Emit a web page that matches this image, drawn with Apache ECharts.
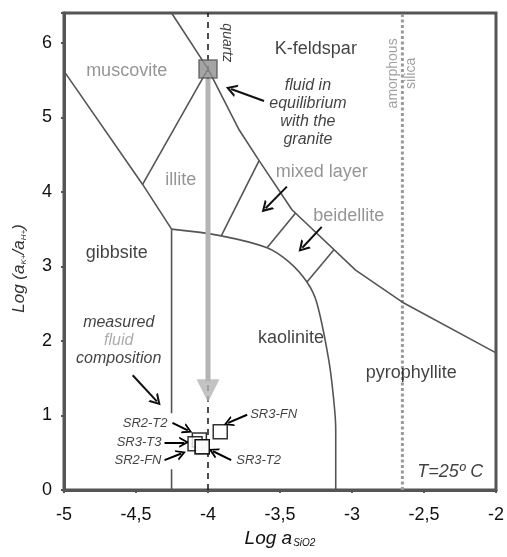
<!DOCTYPE html>
<html><head><meta charset="utf-8">
<script src="https://cdn.jsdelivr.net/npm/echarts@6/dist/echarts.min.js"></script>
<style>html,body{margin:0;padding:0;background:#fff}#c{width:507px;height:557px}</style>
</head><body><div id="c"></div>
<script>
// ---------- data (log activities) ----------
const xTickValues = [-5, -4.5, -4, -3.5, -3, -2.5, -2];
const yTickValues = [0, 1, 2, 3, 4, 5, 6];

const muscoviteGibbsite = [[-5.0, 5.62], [-4.454, 4.10], [-4.253, 3.50]];
const kfeldsparBoundary = [[-4.253, 6.4], [-4.0, 5.65], [-3.783, 4.83], [-3.645, 4.42], [-3.417, 3.76], [-2.975, 2.95], [-2.65, 2.52], [-2.0, 1.84]];
const muscoviteIllite = [[-4.0, 5.65], [-4.454, 4.10]];
const illiteMixedLayer = [[-3.645, 4.42], [-3.908, 3.41]];
const mixedLayerBeidellite = [[-3.39, 3.72], [-3.59, 3.25]];
const beidelliteKaolinite = [[-3.127, 3.22], [-3.313, 2.79]];
const kaoliniteBoundary = [[-4.253, 3.50], [-3.908, 3.41], [-3.590, 3.25], [-3.438, 3.06], [-3.313, 2.79], [-3.244, 2.51], [-3.161, 1.74], [-3.127, 1.21], [-3.113, 0.81], [-3.113, 0.0]];
const gibbsiteKaolinite = [[-4.253, 3.50], [-4.253, 1.03]];
const gibbsiteKaoliniteBase = [[-4.253, 0.28], [-4.253, 0.0]];

const quartzPoint = [-4.0, 5.65];
const quartzLineX = -4.0;
const amorphousSilicaX = -2.65;
const fluidPath = [[-4.0, 5.52], [-4.0, 1.46]];
const fluidArrowHead = [-4.0, 1.33];

const sampleNames = ['SR2-T2', 'SR3-T3', 'SR2-FN', 'SR3-T2', 'SR3-FN'];
const sampleX = [-4.06, -4.09, -4.04, -4.04, -3.915];
const sampleY = [0.67, 0.62, 0.58, 0.58, 0.78];
const sampleLabelAt = [[-4.281, 0.90], [-4.323, 0.64], [-4.323, 0.40], [-3.804, 0.40], [-3.707, 1.01]];
const sampleArrowFrom = [[-4.247, 0.90], [-4.302, 0.64], [-4.302, 0.40], [-3.839, 0.40], [-3.728, 1.01]];
const sampleArrowTo = [[-4.14, 0.80], [-4.165, 0.64], [-4.185, 0.49], [-3.965, 0.52], [-3.86, 0.90]];

const blackRegionLabels = [['K-feldspar', -3.251, 5.91], ['gibbsite', -4.634, 3.18], ['kaolinite', -3.424, 2.04], ['pyrophyllite', -2.588, 1.57]];
const grayRegionLabels = [['muscovite', -4.565, 5.62], ['illite', -4.19, 4.16], ['mixed layer', -3.21, 4.26], ['beidellite', -3.023, 3.67]];
const fluidNote = ['fluid in\nequilibrium\nwith the\ngranite', -3.306, 5.06];
const measuredNote = ['{a|measured}\n{g|fluid}\n{a|composition}', -4.62, 2.0];
const quartzNote = ['quartz', -3.866, 6.0];
const silicaNote = ['amorphous\nsilica', -2.65, 5.59];
const tempNote = ['T=25º C', -2.318, 0.24];

const noteArrows = [
  [[-3.611, 5.22], [-3.84, 5.38]],
  [[-4.523, 1.54], [-4.355, 1.19]],
  [[-3.452, 4.07], [-3.60, 3.78]],
  [[-3.210, 3.53], [-3.345, 3.25]]
];

// ---------- chart ----------
const FONT = '"Liberation Sans", Arial, Helvetica, sans-serif';
const LINE = '#555';
const chevron = 'path://M0,10 L5,0 L10,10 L8.2,10 L5,3.6 L1.8,10 Z';

function lineSeries(data, extra) {
  return Object.assign({
    type: 'line', data: data, symbol: 'none', silent: true, animation: false,
    lineStyle: { color: LINE, width: 1.6 }, z: 3
  }, extra || {});
}
function textSeries(items, label, z) {
  return {
    type: 'scatter', symbolSize: 0, silent: true, animation: false, z: z || 6,
    data: items.map(d => ({ value: [d[1], d[2]], label: { formatter: d[0] } })),
    label: Object.assign({ show: true, position: 'inside', fontFamily: FONT }, label)
  };
}

const series = [
  lineSeries(muscoviteGibbsite),
  lineSeries(kfeldsparBoundary),
  lineSeries(muscoviteIllite),
  lineSeries(illiteMixedLayer),
  lineSeries(mixedLayerBeidellite),
  lineSeries(beidelliteKaolinite),
  lineSeries(kaoliniteBoundary, { smooth: 0.35 }),
  lineSeries(gibbsiteKaolinite),
  lineSeries(gibbsiteKaoliniteBase),
  lineSeries([[quartzLineX, 0], [quartzLineX, 6.4]], { lineStyle: { color: '#111', width: 1.5, type: [6, 5] }, z: 2 }),
  lineSeries([[amorphousSilicaX, 0], [amorphousSilicaX, 6.4]], { lineStyle: { color: '#9a9a9a', width: 3, type: [3, 2.5] }, z: 2 }),
  lineSeries(fluidPath, { lineStyle: { color: '#b4b4b4', width: 5 }, z: 4 }),
  { type: 'scatter', silent: true, animation: false, z: 4, data: [fluidArrowHead], symbol: 'triangle', symbolRotate: 180, symbolSize: [23, 23], itemStyle: { color: '#b4b4b4' } },
  { type: 'scatter', silent: true, animation: false, z: 7, data: [quartzPoint], symbol: 'rect', symbolSize: 18, itemStyle: { color: '#8e8e8e', borderColor: '#555', borderWidth: 1.5 } },
  { type: 'scatter', silent: true, animation: false, z: 8, symbol: 'rect', symbolSize: 14,
    data: sampleNames.map((n, i) => ({ name: n, value: [sampleX[i], sampleY[i]] })),
    itemStyle: { color: '#fff', borderColor: '#000', borderWidth: 1.5 } },
  { type: 'line', data: [], silent: true, animation: false,
    markLine: { silent: true, animation: false, symbol: ['none', chevron], symbolSize: [11, 10], label: { show: false },
      lineStyle: { color: '#000', width: 2, type: 'solid' },
      data: sampleNames.map((n, i) => [{ coord: sampleArrowFrom[i] }, { coord: sampleArrowTo[i] }]) } },
  { type: 'line', data: [], silent: true, animation: false,
    markLine: { silent: true, animation: false, symbol: ['none', chevron], symbolSize: [13, 11], label: { show: false },
      lineStyle: { color: '#111', width: 2, type: 'solid' },
      data: noteArrows.map(a => [{ coord: a[0] }, { coord: a[1] }]) } },
  textSeries(blackRegionLabels, { fontSize: 18, color: '#111' }),
  textSeries(grayRegionLabels, { fontSize: 18, color: '#7a7a7a' }),
  textSeries([fluidNote], { fontSize: 16, fontStyle: 'italic', color: '#111', lineHeight: 18 }),
  textSeries([measuredNote], { fontSize: 16, fontStyle: 'italic', color: '#111', lineHeight: 18,
    rich: { a: { fontSize: 16, fontStyle: 'italic', fontFamily: FONT, color: '#111', lineHeight: 18 }, g: { fontSize: 16, fontStyle: 'italic', fontFamily: FONT, color: '#999', lineHeight: 18 } } }),
  textSeries([quartzNote], { fontSize: 14, fontStyle: 'italic', color: '#111', rotate: -90 }),
  textSeries([silicaNote], { fontSize: 14, color: '#8a8a8a', rotate: 90, lineHeight: 18 }),
  textSeries([tempNote], { fontSize: 18, fontStyle: 'italic', color: '#111' }),
  textSeries(sampleNames.slice(0, 3).map((n, i) => [n, sampleLabelAt[i][0], sampleLabelAt[i][1]]), { fontSize: 13, fontStyle: 'italic', color: '#111', position: 'left', distance: 0 }, 9),
  textSeries(sampleNames.slice(3).map((n, i) => [n, sampleLabelAt[i + 3][0], sampleLabelAt[i + 3][1]]), { fontSize: 13, fontStyle: 'italic', color: '#111', position: 'right', distance: 0 }, 9)
];

const chart = echarts.init(document.getElementById('c'), null, { renderer: 'canvas' });
chart.setOption({
  animation: false,
  backgroundColor: '#fff',
  grid: { left: 64, right: 9, top: 13, bottom: 67, show: true, borderColor: '#555', borderWidth: 3, containLabel: false },
  xAxis: {
    type: 'value', min: -5, max: -2, interval: 0.5,
    name: '{a|Log a}{s|SiO2}', nameLocation: 'middle', nameGap: 31,
    nameTextStyle: { rich: { a: { fontSize: 19, fontStyle: 'italic', fontFamily: FONT, color: '#111' }, s: { fontSize: 10, fontStyle: 'italic', fontFamily: FONT, color: '#111', padding: [10, 0, 0, 1] } } },
    axisLine: { lineStyle: { color: '#555', width: 3 } },
    axisTick: { show: true, length: 3, lineStyle: { color: '#555', width: 2 } },
    splitLine: { show: false },
    axisLabel: { fontSize: 18, color: '#111', fontFamily: FONT, margin: 16, formatter: v => xTickValues.includes(v) ? String(v).replace('.', ',') : '' }
  },
  yAxis: {
    type: 'value', min: 0, max: 6.4, interval: 1,
    name: '{a|Log (a}{s|K+}{a|/a}{s|H+}{a|)}', nameLocation: 'middle', nameGap: 36,
    nameTextStyle: { padding: [0, 34, 0, 0], rich: { a: { fontSize: 17, fontStyle: 'italic', fontFamily: FONT, color: '#333' }, s: { fontSize: 8, fontStyle: 'italic', fontFamily: FONT, color: '#333', padding: [8, 0, 0, 0] } } },
    axisLine: { lineStyle: { color: '#555', width: 3 } },
    axisTick: { show: true, length: 3, lineStyle: { color: '#555', width: 2 } },
    splitLine: { show: false },
    axisLabel: { fontSize: 18, color: '#111', fontFamily: FONT, margin: 12, formatter: v => yTickValues.includes(v) ? String(v) : '' }
  },
  series: series
});
</script></body></html>
